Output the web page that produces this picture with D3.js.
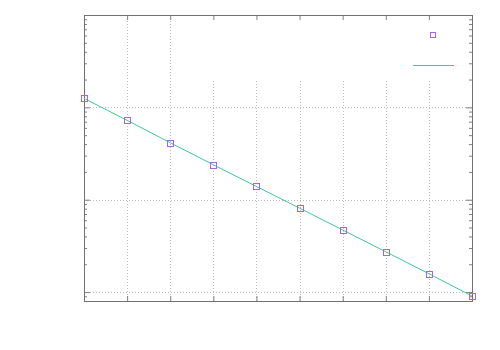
<!doctype html>
<html>
<head>
<meta charset="UTF-8">
<script src="https://d3js.org/d3.v7.min.js"></script>
<style>
  body { margin: 0; background: #fff; }
  svg { display: block; }
</style>
</head>
<body>
<div id="chart"></div>
<script>
// data
var xs = [0, 1, 2, 3, 4, 5, 6, 7, 8, 9];
var measured = [125, 72.3, 41.4, 23.9, 13.9, 8.1, 4.7, 2.73, 1.58, 0.905];
var fitted = [125, 72.3, 41.4, 23.9, 13.9, 8.1, 4.7, 2.73, 1.58, 0.905];
var decades = [1, 10, 100];

var W = 500, H = 350;
var margin = {top: 15, right: 28, bottom: 49, left: 84};

var svg = d3.select("#chart").append("svg")
  .attr("width", W)
  .attr("height", H);

var x = d3.scaleLinear()
  .domain([0, 9])
  .range([margin.left, W - margin.right]);

var y = d3.scaleLog()
  .domain([0.8, 1000])
  .range([H - margin.bottom, margin.top]);

// pixel-snapped helpers
var px = d => Math.round(x(d)) + 0.5;
var py = d => Math.round(y(d)) + 0.5;

var gridColor = "#bcbcbc";

// grid
svg.append("g").selectAll("line")
  .data(xs.slice(1, -1))
  .enter().append("line")
    .attr("x1", px).attr("x2", px)
    .attr("y1", y.range()[0]).attr("y2", y.range()[1])
    .attr("stroke", gridColor)
    .attr("stroke-width", 1)
    .attr("stroke-dasharray", "1,2");

svg.append("g").selectAll("line")
  .data(decades)
  .enter().append("line")
    .attr("x1", x.range()[0]).attr("x2", x.range()[1])
    .attr("y1", py).attr("y2", py)
    .attr("stroke", gridColor)
    .attr("stroke-width", 1)
    .attr("stroke-dasharray", "1,2");

// opaque key box (hides grid under it)
svg.append("rect")
  .attr("x", 190).attr("y", margin.top + 1)
  .attr("width", x.range()[1] - 191).attr("height", 64)
  .attr("fill", "#fff");

// axes, ticks inside on both sides
var axisColor = "#808080";
var bottomAxis = d3.axisBottom(x).tickValues(xs).tickSize(-5).tickFormat("");
var topAxis = d3.axisTop(x).tickValues(xs).tickSize(-5).tickFormat("");

svg.append("g")
  .attr("transform", "translate(0," + y.range()[0] + ")")
  .call(bottomAxis);
svg.append("g")
  .attr("transform", "translate(0," + y.range()[1] + ")")
  .call(topAxis);

// log ticks: major at decades, minor in between
var yTicks = y.ticks();
var leftAxis = d3.axisLeft(y).tickValues(yTicks).tickFormat("")
  .tickSizeInner(-3).tickSizeOuter(0);
var rightAxis = d3.axisRight(y).tickValues(yTicks).tickFormat("")
  .tickSizeInner(-3).tickSizeOuter(0);

var gl = svg.append("g")
  .attr("transform", "translate(" + x.range()[0] + ",0)")
  .call(leftAxis);
var gr = svg.append("g")
  .attr("transform", "translate(" + x.range()[1] + ",0)")
  .call(rightAxis);

[gl, gr].forEach(function (g, i) {
  g.selectAll(".tick line")
    .attr("x2", function (d) {
      var major = Math.abs(Math.log10(d) - Math.round(Math.log10(d))) < 1e-9;
      return (i === 0 ? 1 : -1) * (major ? 6 : 3);
    });
});

svg.selectAll(".domain").remove();
svg.selectAll(".tick line").attr("stroke", axisColor);

// border
svg.append("rect")
  .attr("x", x.range()[0] + 0.5).attr("y", y.range()[1] + 0.5)
  .attr("width", x.range()[1] - x.range()[0]).attr("height", y.range()[0] - y.range()[1])
  .attr("fill", "none")
  .attr("stroke", "#707070")
  .attr("stroke-width", 1);

// fit line
var line = d3.line()
  .x((d, i) => x(xs[i]))
  .y(d => y(d));

svg.append("path")
  .datum(fitted)
  .attr("d", line)
  .attr("fill", "none")
  .attr("stroke", "#3cc8a0")
  .attr("stroke-width", 1);

// data points
svg.append("g").selectAll("rect")
  .data(measured)
  .enter().append("rect")
    .attr("x", (d, i) => px(xs[i]) - 3)
    .attr("y", d => py(d) - 3)
    .attr("width", 6).attr("height", 6)
    .attr("fill", "none")
    .attr("stroke", "#b060e8")
    .attr("stroke-width", 1);

// key samples
svg.append("rect")
  .attr("x", 430.5).attr("y", 32.5)
  .attr("width", 5).attr("height", 5)
  .attr("fill", "none")
  .attr("stroke", "#b060e8");

svg.append("line")
  .attr("x1", 413).attr("x2", 454)
  .attr("y1", 65.5).attr("y2", 65.5)
  .attr("stroke", "#3cc8a0")
  .attr("stroke-width", 1);
</script>
</body>
</html>
